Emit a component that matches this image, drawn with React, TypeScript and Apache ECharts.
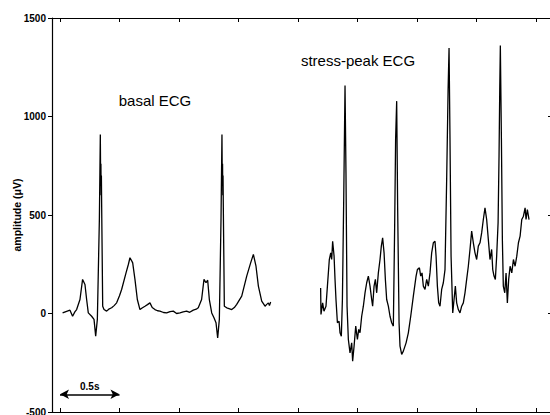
import React, { useEffect, useRef } from "react";
import * as echarts from "echarts";

// time (s) and amplitude (µV)
const basalT = [0.022, 0.05, 0.084, 0.106, 0.125, 0.14, 0.168, 0.19, 0.2, 0.21, 0.224, 0.238, 0.266, 0.286, 0.3, 0.314, 0.331, 0.339, 0.342, 0.344, 0.346, 0.348, 0.35, 0.359, 0.37, 0.392, 0.41, 0.434, 0.455, 0.476, 0.5, 0.518, 0.555, 0.575, 0.588, 0.6, 0.611, 0.63, 0.65, 0.672, 0.69, 0.714, 0.735, 0.756, 0.775, 0.798, 0.82, 0.84, 0.87, 0.896, 0.925, 0.952, 0.98, 1.008, 1.035, 1.064, 1.09, 1.12, 1.145, 1.162, 1.19, 1.21, 1.227, 1.241, 1.255, 1.275, 1.294, 1.311, 1.325, 1.339, 1.353, 1.361, 1.364, 1.366, 1.368, 1.37, 1.372, 1.381, 1.401, 1.42, 1.443, 1.465, 1.485, 1.527, 1.569, 1.602, 1.625, 1.647, 1.667, 1.695, 1.723, 1.735, 1.751, 1.76, 1.77];
const basalV = [3, 10, 17, -14, 8, 20, 71, 173, 160, 147, 71, 3, -14, -30, -115, -30, 477, 909, 650, 760, 600, 700, 562, 37, 20, 12, 22, 29, 40, 54, 90, 122, 206, 250, 283, 270, 257, 173, 71, 20, 28, 37, 45, 54, 30, 20, 14, 12, 5, 3, 10, 12, 0, 3, 8, 12, 6, 17, 22, 29, 71, 173, 156, 169, 71, 3, -22, -47, -124, -30, 477, 909, 650, 760, 600, 700, 562, 37, 29, 25, 20, 30, 46, 88, 190, 257, 300, 240, 139, 63, 37, 45, 54, 40, 58];

const stressT = [2.19, 2.193, 2.207, 2.218, 2.235, 2.247, 2.263, 2.275, 2.283, 2.291, 2.303, 2.311, 2.319, 2.331, 2.345, 2.353, 2.364, 2.373, 2.384, 2.395, 2.403, 2.412, 2.423, 2.437, 2.451, 2.459, 2.471, 2.485, 2.499, 2.51, 2.521, 2.535, 2.549, 2.563, 2.577, 2.591, 2.605, 2.619, 2.627, 2.639, 2.65, 2.661, 2.675, 2.689, 2.7, 2.711, 2.723, 2.734, 2.745, 2.759, 2.773, 2.787, 2.801, 2.812, 2.82, 2.829, 2.837, 2.849, 2.857, 2.871, 2.885, 2.908, 2.927, 2.947, 2.969, 2.992, 3.003, 3.02, 3.031, 3.042, 3.053, 3.067, 3.081, 3.095, 3.109, 3.123, 3.137, 3.151, 3.16, 3.171, 3.182, 3.193, 3.207, 3.221, 3.235, 3.249, 3.261, 3.269, 3.277, 3.286, 3.3, 3.311, 3.322, 3.333, 3.347, 3.361, 3.375, 3.389, 3.403, 3.417, 3.431, 3.445, 3.459, 3.473, 3.487, 3.501, 3.515, 3.529, 3.543, 3.557, 3.571, 3.585, 3.599, 3.613, 3.627, 3.636, 3.647, 3.658, 3.669, 3.681, 3.689, 3.695, 3.7, 3.709, 3.717, 3.725, 3.737, 3.748, 3.759, 3.77, 3.782, 3.796, 3.81, 3.824, 3.838, 3.852, 3.866, 3.88, 3.894, 3.908, 3.916, 3.927, 3.941];
const stressV = [130, -5, 54, 12, 37, 139, 274, 308, 274, 367, 291, 173, 71, -47, -39, -98, -115, 71, 579, 1157, 714, 37, -132, -200, -149, -242, -166, -64, -132, -81, -98, -14, 37, 105, 156, 190, 139, 71, 37, 139, 173, 105, 206, 274, 342, 384, 308, 173, 71, 37, -14, -47, -64, 443, 883, 1078, 545, -47, -166, -208, -191, -149, -98, -14, 88, 190, 223, 232, 190, 206, 139, 122, 173, 139, 206, 308, 359, 367, 291, 139, 54, 37, 122, 156, 223, 680, 1137, 1348, 883, 291, 3, 71, 139, 54, 20, 3, 37, 54, 105, 173, 240, 325, 418, 359, 308, 274, 342, 359, 409, 477, 536, 477, 376, 274, 325, 223, 190, 173, 291, 460, 799, 1137, 1360, 883, 376, 139, 105, 206, 54, 173, 240, 206, 274, 240, 291, 359, 393, 477, 494, 536, 477, 528, 477];

const xTicks = [0, 0.5, 1, 1.5, 2, 2.5, 3, 3.5, 4];
const yTicks = [-500, 0, 500, 1000, 1500];
const scaleBarT = [0, 0.5];
const scaleBarV = -410;
const scaleBarLabel = "0.5s";
const basalLabel = "basal ECG";
const stressLabel = "stress-peak ECG";
const yName = "amplitude (μV)";

const FONT = "'Liberation Sans', Arial, Helvetica, sans-serif";

export default function App() {
  const ref = useRef<HTMLDivElement>(null);
  useEffect(() => {
    if (!ref.current) return;
    const chart = echarts.init(ref.current, null, { renderer: "svg" });
    const basal = basalT.map((t, i) => [t, basalV[i]]);
    const stress = stressT.map((t, i) => [t, stressV[i]]);
    const xMin = -0.067;
    const xMax = 4.134;
    const baseX = {
      type: "value" as const,
      min: xMin,
      max: xMax,
      splitLine: { show: false },
      axisLine: { show: true, onZero: false, lineStyle: { color: "#000", width: 1.2 } },
      axisTick: { show: true, inside: true, length: 4, lineStyle: { color: "#000", width: 1 }, customValues: xTicks },
      axisLabel: { show: false },
    };
    chart.setOption({
      animation: false,
      backgroundColor: "#fff",
      grid: { left: 52, top: 18, width: 500, height: 394, containLabel: false, outerBoundsMode: "none" },
      xAxis: [
        { ...baseX, position: "bottom" },
        { ...baseX, position: "top" },
      ],
      yAxis: [
        {
          type: "value",
          min: yTicks[0],
          max: yTicks[yTicks.length - 1],
          interval: 500,
          position: "left",
          name: yName,
          nameLocation: "middle",
          nameGap: 30,
          nameMoveOverlap: false,
          nameTextStyle: { fontFamily: FONT, fontSize: 10.5, color: "#000", fontWeight: "bold" },
          splitLine: { show: false },
          axisLine: { show: true, onZero: false, lineStyle: { color: "#000", width: 1.2 } },
          axisTick: { show: true, inside: false, length: 4, lineStyle: { color: "#000" } },
          axisLabel: {
            fontFamily: FONT,
            fontSize: 10,
            color: "#000",
            fontWeight: "bold",
            margin: 6,
            formatter: (v: number) => String(v),
          },
        },
        {
          type: "value",
          min: yTicks[0],
          max: yTicks[yTicks.length - 1],
          interval: 500,
          position: "right",
          splitLine: { show: false },
          axisLine: { show: true, onZero: false, lineStyle: { color: "#000" } },
          axisTick: { show: true, inside: true, length: 4, lineStyle: { color: "#000" } },
          axisLabel: { show: false },
        },
      ],
      graphic: [
        {
          type: "text",
          x: 155,
          y: 100,
          style: { text: basalLabel, fontFamily: FONT, fontSize: 15, fill: "#000", align: "center", verticalAlign: "middle" },
        },
        {
          type: "text",
          x: 358,
          y: 60,
          style: { text: stressLabel, fontFamily: FONT, fontSize: 15, fill: "#000", align: "center", verticalAlign: "middle" },
        },
      ],
      series: [
        {
          type: "line",
          data: basal,
          showSymbol: false,
          symbol: "none",
          lineStyle: { color: "#000", width: 1.3 },
          markLine: {
            silent: true,
            symbol: ["arrow", "arrow"],
            symbolSize: [7, 9],
            lineStyle: { color: "#000", width: 1.6, type: "solid" },
            label: {
              show: true,
              position: "middle",
              formatter: scaleBarLabel,
              fontFamily: FONT,
              fontSize: 10,
              fontWeight: "bold",
              color: "#000",
              distance: 3,
            },
            data: [[{ coord: [scaleBarT[0], scaleBarV] }, { coord: [scaleBarT[1], scaleBarV] }]],
          },
        },
        {
          type: "line",
          data: stress,
          showSymbol: false,
          symbol: "none",
          lineStyle: { color: "#000", width: 1.3 },
        },
      ],
    });
    return () => chart.dispose();
  }, []);
  return (
    <div
      ref={ref}
      style={{ position: "fixed", left: 0, top: 0, width: 550, height: 415, background: "#fff" }}
    />
  );
}
